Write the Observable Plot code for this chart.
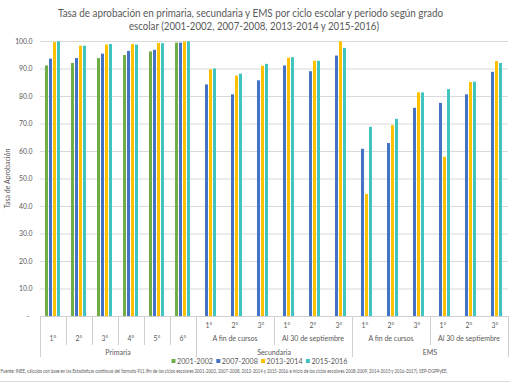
<!DOCTYPE html>
<html><head><meta charset="utf-8">
<script src="https://cdn.jsdelivr.net/npm/d3@7"></script>
<script src="https://cdn.jsdelivr.net/npm/@observablehq/plot@0.6"></script>
<style>
body{margin:0;background:#fff;}
svg{display:block;}
</style></head>
<body><div id="chart"></div>
<script>
// ---- data ----
const groupKeys = ["P1","P2","P3","P4","P5","P6","SF1","SF2","SF3","SS1","SS2","SS3","EF1","EF2","EF3","ES1","ES2","ES3"];
const gradeLabels = ["1°","2°","3°","4°","5°","6°","1°","2°","3°","1°","2°","3°","1°","2°","3°","1°","2°","3°"];
const groupLevel = ["Primaria","Primaria","Primaria","Primaria","Primaria","Primaria",
  "Secundaria","Secundaria","Secundaria","Secundaria","Secundaria","Secundaria",
  "EMS","EMS","EMS","EMS","EMS","EMS"];
const groupPeriod = ["","","","","","",
  "A fin de cursos","A fin de cursos","A fin de cursos","Al 30 de septiembre","Al 30 de septiembre","Al 30 de septiembre",
  "A fin de cursos","A fin de cursos","A fin de cursos","Al 30 de septiembre","Al 30 de septiembre","Al 30 de septiembre"];
const levelLabels = ["Primaria","Secundaria","EMS"];
const series = ["2001-2002","2007-2008","2013-2014","2015-2016"];
const colors = ["#70ad47","#4472c4","#ffc000","#40c4c0"];
const v2001 = [91.1,92.0,93.8,94.9,96.2,99.4,null,null,null,null,null,null,null,null,null,null,null,null];
const v2007 = [93.6,93.8,95.4,96.4,96.8,99.4,84.2,80.6,85.7,91.1,89.0,94.7,60.8,62.9,75.7,77.5,80.6,88.8];
const v2013 = [99.6,98.3,98.7,98.9,99.3,99.8,89.7,87.4,91.0,93.9,92.8,99.9,44.4,69.4,81.3,57.9,85.1,92.7];
const v2015 = [99.9,98.3,98.9,98.7,99.2,99.9,90.0,88.1,91.7,94.1,92.8,97.5,68.8,71.7,81.3,82.5,85.2,92.0];
const yTicks = [0,10,20,30,40,50,60,70,80,90,100];
const title1 = "Tasa de aprobación en primaria, secundaria y EMS por ciclo escolar y periodo según grado";
const title2 = "escolar (2001-2002, 2007-2008, 2013-2014 y 2015-2016)";
const yTitle = "Tasa de Aprobación";
const source = "Fuente: INEE, cálculos con base en las Estadísticas continuas del formato 911 (fin de los ciclos escolares 2001-2002, 2007-2008, 2013-2014 y 2015-2016 e inicio de los ciclos escolares 2008-2009, 2014-2015 y 2016-2017), SEP-DGPPyEE.";

const valueArrays = [v2001, v2007, v2013, v2015];
const rows = [];
groupKeys.forEach((k, i) => {
  valueArrays.forEach((arr, j) => {
    if (arr[i] != null) rows.push({key: k, series: series[j], value: arr[i]});
  });
});

const FONT = "Lato, 'Open Sans', sans-serif";
const TXT = "#595959";

const plot = Plot.plot({
  width: 510, height: 382,
  marginTop: 41, marginBottom: 66, marginLeft: 38, marginRight: 1,
  style: {fontFamily: FONT, fontSize: "6.8px", color: TXT, background: "transparent"},
  facet: {data: rows, x: "key"},
  fx: {domain: groupKeys, padding: 0, axis: null, label: null},
  x: {domain: series, paddingInner: 0.15, paddingOuter: 0.86, axis: null, label: null},
  y: {domain: [0, 100], ticks: yTicks, tickSize: 0, tickPadding: 8, label: null,
      tickFormat: d => d === 0 ? "-\u00a0\u00a0" : d.toFixed(1)},
  color: {domain: series, range: colors},
  marks: [
    Plot.ruleY(yTicks.filter(d => d > 0), {stroke: "#d9d9d9", strokeWidth: 1}),
    Plot.barY(rows, {x: "series", y: "value", fill: "series"}),
    Plot.ruleY([0], {stroke: "#d0d0d0", strokeWidth: 1})
  ]
});
document.getElementById("chart").appendChild(plot);

// ---- decorations using the plot's scales ----
const svg = d3.select(plot);
const fx = plot.scale("fx");
const ys = plot.scale("y");
const bw = fx.bandwidth;
const y0 = ys.apply(0);
const left = k => fx.apply(k);
const center = k => fx.apply(k) + bw / 2;

const deco = svg.append("g").attr("font-family", FONT).attr("fill", TXT).attr("text-anchor", "middle");

// separator lines
const lineColor = "#d0d0d0";
for (let i = 0; i <= groupKeys.length; i++) {
  const x = i < groupKeys.length ? left(groupKeys[i]) : left(groupKeys[i - 1]) + bw;
  let len = 0;
  if (i === 0 || i === groupKeys.length || groupLevel[i] !== groupLevel[i - 1]) len = 41;
  else if (groupLevel[i] === "Primaria" || groupPeriod[i] !== groupPeriod[i - 1]) len = 29;
  if (len > 0) {
    deco.append("line").attr("x1", Math.round(x) + 0.5).attr("x2", Math.round(x) + 0.5)
      .attr("y1", y0).attr("y2", y0 + len).attr("stroke", lineColor);
  }
}

// grade labels
groupKeys.forEach((k, i) => {
  deco.append("text").attr("x", center(k))
    .attr("y", groupLevel[i] === "Primaria" ? y0 + 24.5 : y0 + 11.5)
    .attr("text-anchor", "middle").attr("font-size", 6.8).text(gradeLabels[i]);
});

// period labels (centered over their groups)
const periodSpans = d3.groups(groupKeys.map((k, i) => ({k, i})).filter(d => groupPeriod[d.i] !== ""),
  d => groupLevel[d.i] + "|" + groupPeriod[d.i]);
periodSpans.forEach(([id, items]) => {
  const x1 = left(items[0].k), x2 = left(items[items.length - 1].k) + bw;
  deco.append("text").attr("x", (x1 + x2) / 2).attr("y", y0 + 24.5)
    .attr("text-anchor", "middle").attr("font-size", 7).text(groupPeriod[items[0].i]);
});

// level labels
levelLabels.forEach(lv => {
  const ks = groupKeys.filter((k, i) => groupLevel[i] === lv);
  const x1 = left(ks[0]), x2 = left(ks[ks.length - 1]) + bw;
  deco.append("text").attr("x", (x1 + x2) / 2).attr("y", y0 + 38.5)
    .attr("text-anchor", "middle").attr("font-size", 7).text(lv);
});

// y axis title
deco.append("text").attr("transform", `translate(10,${(ys.apply(0) + ys.apply(100)) / 2}) rotate(-90)`)
  .attr("text-anchor", "middle").attr("font-size", 7).text(yTitle);

// title
deco.append("text").attr("x", 250.5).attr("y", 16.5).attr("text-anchor", "middle")
  .attr("font-size", 11).attr("textLength", 385).attr("lengthAdjust", "spacingAndGlyphs").text(title1);
deco.append("text").attr("x", 254).attr("y", 29.5).attr("text-anchor", "middle")
  .attr("font-size", 11).attr("textLength", 250).attr("lengthAdjust", "spacingAndGlyphs").text(title2);

// legend
const leg = deco.append("g");
series.forEach((s, j) => {
  const gx = 171.5 + j * 44.8;
  leg.append("rect").attr("x", gx).attr("y", y0 + 43).attr("width", 4).attr("height", 4).attr("fill", colors[j]);
  leg.append("text").attr("x", gx + 5.5).attr("y", y0 + 47.8).attr("text-anchor", "start")
    .attr("font-size", 7.2).text(s);
});

// source
deco.append("text").attr("x", 0.5).attr("y", y0 + 57).attr("text-anchor", "start").attr("font-size", 4.7)
  .attr("textLength", 447).attr("lengthAdjust", "spacingAndGlyphs").text(source);

// bottom border
deco.append("line").attr("x1", 0).attr("x2", 510).attr("y1", 381.5).attr("y2", 381.5).attr("stroke", "#d9d9d9");
</script>
</body></html>
